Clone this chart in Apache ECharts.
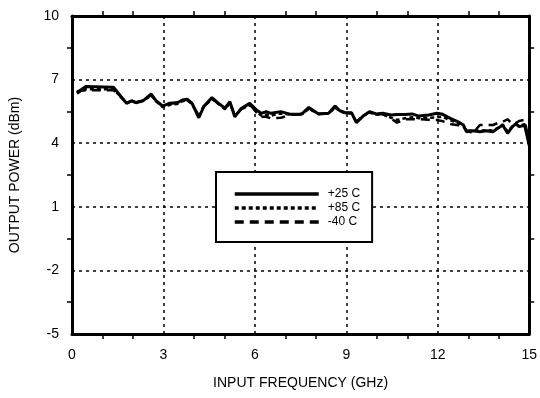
<!DOCTYPE html>
<html><head><meta charset="utf-8">
<script src="https://cdn.jsdelivr.net/npm/echarts@6/dist/echarts.min.js"></script>
<style>html,body{margin:0;padding:0;background:#fff}#c{width:540px;height:398px}</style>
</head><body><div id="c"></div>
<script>
const freq = [0.16,0.44,1.36,1.79,1.95,2.10,2.33,2.60,2.76,2.97,3.19,3.46,3.62,3.78,3.94,4.16,4.32,4.59,4.81,5.02,5.18,5.34,5.56,5.83,6.05,6.21,6.37,6.53,6.85,7.18,7.45,7.56,7.77,7.93,8.09,8.42,8.63,8.79,8.96,9.17,9.33,9.55,9.76,9.98,10.19,10.47,10.66,10.93,11.16,11.38,11.70,11.97,12.13,12.41,12.67,12.84,12.94,13.16,13.38,13.59,13.81,13.97,14.13,14.29,14.45,14.56,14.67,14.85,15.0];
const p25 = [6.38,6.67,6.64,5.88,6.00,5.91,6.00,6.32,6.00,5.75,5.88,5.91,6.04,6.08,5.88,5.20,5.72,6.15,5.88,5.65,5.96,5.25,5.65,5.88,5.57,5.41,5.49,5.41,5.49,5.36,5.36,5.41,5.69,5.53,5.38,5.41,5.75,5.53,5.44,5.44,4.97,5.28,5.49,5.38,5.41,5.33,5.35,5.35,5.38,5.28,5.33,5.41,5.38,5.17,5.01,4.86,4.54,4.59,4.54,4.59,4.54,4.70,4.86,4.47,4.78,4.91,4.78,4.85,3.90];
const p85 = [6.35,6.55,6.55,5.90,5.98,5.92,6.00,6.25,5.98,5.70,5.80,5.85,5.98,6.02,5.85,5.25,5.70,6.10,5.85,5.60,5.90,5.30,5.60,5.80,5.50,5.30,5.35,5.30,5.40,5.35,5.33,5.38,5.62,5.50,5.38,5.40,5.68,5.50,5.42,5.40,5.02,5.28,5.45,5.35,5.36,5.20,5.10,5.18,5.22,5.18,5.20,5.22,5.25,5.08,4.95,4.80,4.58,4.60,4.58,4.62,4.60,4.72,4.88,4.55,4.80,4.90,4.82,4.90,3.95];
const p40 = [6.45,6.50,6.50,5.92,6.02,5.93,6.02,6.28,6.00,5.78,5.85,5.93,6.02,6.05,5.85,5.30,5.75,6.10,5.85,5.62,5.92,5.30,5.62,5.85,5.45,5.25,5.25,5.17,5.20,5.35,5.35,5.40,5.65,5.50,5.38,5.42,5.70,5.52,5.44,5.42,5.00,5.28,5.47,5.36,5.38,5.17,4.97,5.13,5.13,5.13,5.11,5.09,5.05,4.91,4.85,4.78,4.60,4.47,4.86,4.86,4.86,4.95,5.01,5.13,4.90,4.95,5.05,5.10,4.00];
const seriesNames = ['+25 C', '+85 C', '-40 C'];
const xTitle = 'INPUT FREQUENCY (GHz)';
const yTitle = 'OUTPUT POWER (dBm)';

const FONT = '"Liberation Sans", Arial, sans-serif';
const pair = arr => freq.map((f, i) => [f, arr[i]]);
const grid = {type: [3, 4], width: 1.5, color: '#000'};
const axLine = {show: true, onZero: false, lineStyle: {color: '#000', width: 3}};

function xAx(pos, main) {
  return {
    type: 'value', position: pos, min: 0, max: 15, interval: 3,
    name: main ? xTitle : '', nameLocation: 'middle', nameGap: 42,
    nameTextStyle: {fontFamily: FONT, fontSize: 14, color: '#000'},
    axisLine: axLine,
    axisTick: {show: false},
    minorTick: {show: true, splitNumber: 3, length: 5, lineStyle: {color: '#000', width: 1.5}},
    axisLabel: {show: main, fontFamily: FONT, fontSize: 14, color: '#000', margin: 14},
    splitLine: {show: main, lineStyle: grid},
    minorSplitLine: {show: false}
  };
}
function yAx(pos, main) {
  return {
    type: 'value', position: pos, min: -5, max: 10, interval: 3,
    name: main ? yTitle : '', nameLocation: 'middle', nameGap: 50,
    nameTextStyle: {fontFamily: FONT, fontSize: 14, color: '#000'},
    axisLine: axLine,
    axisTick: {show: false},
    minorTick: {show: true, splitNumber: 2, length: 5, lineStyle: {color: '#000', width: 1.5}},
    axisLabel: {show: main, fontFamily: FONT, fontSize: 14, color: '#000', margin: 13},
    splitLine: {show: main, lineStyle: grid},
    minorSplitLine: {show: false}
  };
}

const chart = echarts.init(document.getElementById('c'), null, {renderer: 'canvas'});
chart.setOption({
  animation: false,
  backgroundColor: '#fff',
  grid: {left: 68, right: 9, top: 16, bottom: 64, containLabel: false},
  xAxis: [xAx('bottom', true), xAx('top', false)],
  yAxis: [yAx('left', true), yAx('right', false)],
  legend: {
    show: true,
    orient: 'vertical', left: 216, top: 172,
    backgroundColor: '#fff', borderColor: '#000', borderWidth: 2,
    padding: [16, 12, 14, 17], itemGap: 2,
    itemWidth: 84, itemHeight: 12,
    itemStyle: {opacity: 0},
    lineStyle: {width: 3.5},
    textStyle: {fontFamily: FONT, fontSize: 12, color: '#000', padding: [0, 0, 0, 4]},
    data: seriesNames
  },
  series: [
    {name: seriesNames[2], type: 'line', data: pair(p40), symbol: 'none', z: 3,
     lineStyle: {color: '#000', width: 2.5, type: [9, 6]}, itemStyle: {color: '#000'}},
    {name: seriesNames[1], type: 'line', data: pair(p85), symbol: 'none', z: 4,
     lineStyle: {color: '#000', width: 2.5, type: [4, 3]}, itemStyle: {color: '#000'}},
    {name: seriesNames[0], type: 'line', data: pair(p25), symbol: 'none', z: 5,
     lineStyle: {color: '#000', width: 3}, itemStyle: {color: '#000'}}
  ]
});
</script></body></html>
